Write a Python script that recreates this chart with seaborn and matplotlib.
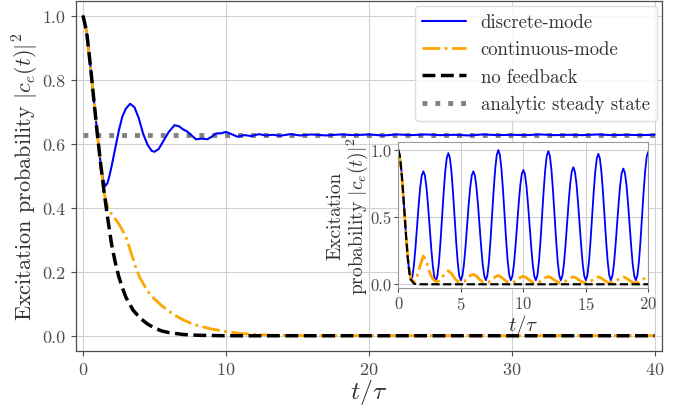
import numpy as np
import pandas as pd
import matplotlib
matplotlib.use("Agg")
import matplotlib.pyplot as plt
import seaborn as sns

# ---------------- data ----------------
# main panel
t_discrete = [0, 0.25, 0.5, 0.75, 1.0, 1.25, 1.4, 1.55, 1.7, 1.85,
              2.0, 2.25, 2.5, 2.75, 3.0, 3.3, 3.6, 3.9, 4.2, 4.5,
              4.8, 5.0, 5.3, 5.6, 6.0, 6.4, 6.7, 7.0, 7.3, 7.6,
              7.9, 8.3, 8.7, 9.0, 9.3, 9.7, 10.0, 10.4, 10.8, 11.3,
              11.8, 12.3, 12.8, 13.3, 13.8, 14.5, 15.2, 16, 17, 18,
              19, 20, 21, 22, 23, 24, 25, 26, 27, 28,
              29, 30, 31, 32, 33, 34, 35, 36, 37, 38,
              39, 40]
p_discrete = [1.0, 0.95, 0.85, 0.74, 0.63, 0.53, 0.49, 0.468, 0.476, 0.50,
              0.53, 0.585, 0.64, 0.685, 0.71, 0.725, 0.714, 0.68, 0.632, 0.598,
              0.578, 0.575, 0.584, 0.607, 0.637, 0.658, 0.655, 0.645, 0.638, 0.626,
              0.614, 0.616, 0.614, 0.622, 0.632, 0.633, 0.637, 0.63, 0.622, 0.627,
              0.624, 0.63, 0.626, 0.628, 0.625, 0.630, 0.626, 0.629, 0.626, 0.629,
              0.627, 0.629, 0.626, 0.629, 0.627, 0.629, 0.627, 0.628, 0.626, 0.629,
              0.627, 0.628, 0.627, 0.629, 0.627, 0.628, 0.627, 0.629, 0.627, 0.628,
              0.627, 0.628]

t_continuous = [0, 0.25, 0.5, 0.75, 1.0, 1.25, 1.5, 1.75, 2.0, 2.25,
                2.5, 2.75, 3.0, 3.25, 3.5, 3.75, 4.0, 4.5, 5.0, 5.5,
                6.0, 6.5, 7.0, 7.5, 8.0, 9.0, 10, 11, 12, 13,
                14, 16, 40]
p_continuous = [1.0, 0.95, 0.85, 0.74, 0.63, 0.53, 0.44, 0.40, 0.38, 0.365,
                0.35, 0.33, 0.31, 0.275, 0.24, 0.205, 0.18, 0.14, 0.115, 0.094,
                0.077, 0.062, 0.05, 0.04, 0.032, 0.021, 0.013, 0.007, 0.004, 0.002,
                0.001, 0.0, 0.0]

t_nofb = [0, 0.25, 0.5, 0.75, 1.0, 1.25, 1.5, 1.75, 2.0, 2.25,
          2.5, 2.75, 3.0, 3.5, 4.0, 4.5, 5.0, 5.5, 6.0, 7.0,
          8.0, 10, 40]
p_nofb = [1.0, 0.95, 0.85, 0.74, 0.63, 0.53, 0.44, 0.36, 0.285, 0.23,
          0.185, 0.15, 0.12, 0.08, 0.055, 0.037, 0.024, 0.015, 0.01, 0.004,
          0.0015, 0.0, 0.0]

t_steady = [0, 40]
steady_value = 0.628

# inset panel
tin_discrete = np.arange(0, 20.0001, 0.125)
pin_discrete = [1.0, 0.95, 0.84, 0.69, 0.52, 0.35, 0.2, 0.09, 0.03,
                0.056, 0.144, 0.277, 0.433, 0.588, 0.721, 0.809, 0.84,
                0.809, 0.721, 0.588, 0.433, 0.277, 0.144, 0.056, 0.025,
                0.061, 0.164, 0.319, 0.5, 0.681, 0.836, 0.939, 0.975,
                0.939, 0.836, 0.681, 0.5, 0.319, 0.164, 0.061, 0.03,
                0.062, 0.148, 0.279, 0.434, 0.59, 0.721, 0.809, 0.84,
                0.809, 0.721, 0.59, 0.434, 0.279, 0.148, 0.062, 0.03,
                0.067, 0.171, 0.329, 0.514, 0.699, 0.857, 0.961, 0.998,
                0.961, 0.857, 0.699, 0.514, 0.329, 0.171, 0.067, 0.03,
                0.061, 0.15, 0.285, 0.44, 0.595, 0.73, 0.819, 0.85,
                0.819, 0.73, 0.595, 0.44, 0.285, 0.15, 0.061, 0.03,
                0.066, 0.17, 0.326, 0.51, 0.694, 0.85, 0.954, 0.99,
                0.954, 0.85, 0.694, 0.51, 0.326, 0.17, 0.066, 0.03,
                0.062, 0.152, 0.29, 0.45, 0.61, 0.748, 0.838, 0.87,
                0.838, 0.748, 0.61, 0.45, 0.29, 0.152, 0.062, 0.03,
                0.066, 0.168, 0.32, 0.5, 0.68, 0.832, 0.934, 0.97,
                0.934, 0.832, 0.68, 0.5, 0.32, 0.168, 0.066, 0.03,
                0.062, 0.15, 0.287, 0.445, 0.603, 0.74, 0.828, 0.86,
                0.828, 0.74, 0.603, 0.445, 0.287, 0.15, 0.062, 0.03,
                0.066, 0.17, 0.324, 0.508, 0.691, 0.847, 0.951, 0.985]

tin_continuous = np.arange(0, 20.0001, 0.25)
pin_continuous = [1.0, 0.84, 0.52, 0.2, 0.035,
                  0.02, 0.06, 0.14, 0.21, 0.17, 0.09, 0.04, 0.02,
                  0.025, 0.05, 0.085, 0.10, 0.08, 0.045, 0.02, 0.015,
                  0.02, 0.04, 0.065, 0.074, 0.06, 0.035, 0.018, 0.012,
                  0.018, 0.035, 0.055, 0.065, 0.052, 0.032, 0.016, 0.011,
                  0.017, 0.032, 0.05, 0.06, 0.048, 0.03, 0.015, 0.01,
                  0.016, 0.03, 0.048, 0.057, 0.047, 0.03, 0.015, 0.01,
                  0.016, 0.03, 0.047, 0.055, 0.046, 0.028, 0.015, 0.01,
                  0.016, 0.03, 0.046, 0.055, 0.045, 0.028, 0.014, 0.01,
                  0.016, 0.03, 0.046, 0.055, 0.045, 0.028, 0.014, 0.01,
                  0.016, 0.03, 0.048, 0.06]

tin_nofb = [0, 0.125, 0.25, 0.375, 0.5, 0.625, 0.75, 0.875, 1.0, 1.25, 1.5, 2, 20]
pin_nofb = [1.0, 0.95, 0.84, 0.69, 0.52, 0.35, 0.2, 0.09, 0.035, 0.005, 0.0, 0.0, 0.0]

labels = ["discrete-mode", "continuous-mode", "no feedback", "analytic steady state"]
colors = ["#0000FF", "#FFA500", "#000000", "#808080"]

# ---------------- style ----------------
sns.set_theme(style="whitegrid")
plt.rcParams.update({
    "font.family": ["cmr10", "DejaVu Serif"],
    "mathtext.fontset": "cm",
    "axes.formatter.use_mathtext": True,
    "axes.unicode_minus": False,
    "axes.edgecolor": "0.3",
    "axes.linewidth": 0.9,
    "grid.color": "0.82",
    "grid.linewidth": 0.8,
    "xtick.bottom": True,
    "ytick.left": True,
    "xtick.major.size": 3.5,
    "ytick.major.size": 3.5,
    "xtick.major.width": 0.8,
    "ytick.major.width": 0.8,
    "xtick.color": "0.3",
    "ytick.color": "0.3",
    "text.color": "0.2",
    "axes.labelcolor": "0.2",
})

fig = plt.figure(figsize=(6.9, 4.1), dpi=100)
ax = fig.add_axes([0.110, 0.142, 0.849, 0.853])

sns.lineplot(x=t_discrete, y=p_discrete, ax=ax, color=colors[0], lw=1.5,
             label=labels[0], sort=False, estimator=None)
sns.lineplot(x=t_continuous, y=p_continuous, ax=ax, color=colors[1], lw=2.0,
             ls="-.", label=labels[1], sort=False, estimator=None)
sns.lineplot(x=t_nofb, y=p_nofb, ax=ax, color=colors[2], lw=2.5,
             ls="--", label=labels[2], sort=False, estimator=None)
sns.lineplot(x=t_steady, y=[steady_value] * len(t_steady), ax=ax, color=colors[3],
             lw=3.5, ls=":", label=labels[3], zorder=1, sort=False, estimator=None)

ax.set_xlim(-0.5, 40.5)
ax.set_ylim(-0.047, 1.046)
ax.set_xticks([0, 10, 20, 30, 40])
ax.set_yticks([0.0, 0.2, 0.4, 0.6, 0.8, 1.0])
ax.set_yticklabels(["0.0", "0.2", "0.4", "0.6", "0.8", "1.0"])
ax.tick_params(labelsize=13, pad=4)
ax.set_xlabel(r"$t/\tau$", fontsize=18.5, labelpad=0)
ax.set_ylabel(r"Excitation probability $|c_e(t)|^2$", fontsize=16, labelpad=1)

leg = ax.legend(loc="upper right", fontsize=13.5, handlelength=2.3,
                borderaxespad=0.25, labelspacing=0.5, framealpha=0.85,
                edgecolor="0.85", fancybox=True)

# ---------------- inset ----------------
axin = fig.add_axes([0.5773, 0.2944, 0.3623, 0.3576])
axin.set_facecolor("white")
sns.lineplot(x=tin_discrete, y=pin_discrete, ax=axin, color=colors[0], lw=1.3,
             sort=False, estimator=None)
sns.lineplot(x=tin_continuous, y=pin_continuous, ax=axin, color=colors[1], lw=2.0,
             ls="-.", sort=False, estimator=None)
sns.lineplot(x=tin_nofb, y=pin_nofb, ax=axin, color=colors[2], lw=1.6,
             ls="--", sort=False, estimator=None)
axin.set_xlim(0, 20)
axin.set_ylim(-0.03, 1.06)
axin.set_xticks([0, 5, 10, 15, 20])
axin.set_yticks([0.0, 0.5, 1.0])
axin.set_yticklabels(["0.0", "0.5", "1.0"])
axin.tick_params(labelsize=12, pad=2, length=3)
for s in axin.spines.values():
    s.set_color("0.6")
    s.set_linewidth(0.8)
axin.set_xlabel(r"$t/\tau$", fontsize=15, labelpad=0)
axin.set_ylabel("Excitation\n" + r"probability $|c_e(t)|^2$", fontsize=14,
                labelpad=0, linespacing=1.0)

fig.savefig("out.png", dpi=100)
